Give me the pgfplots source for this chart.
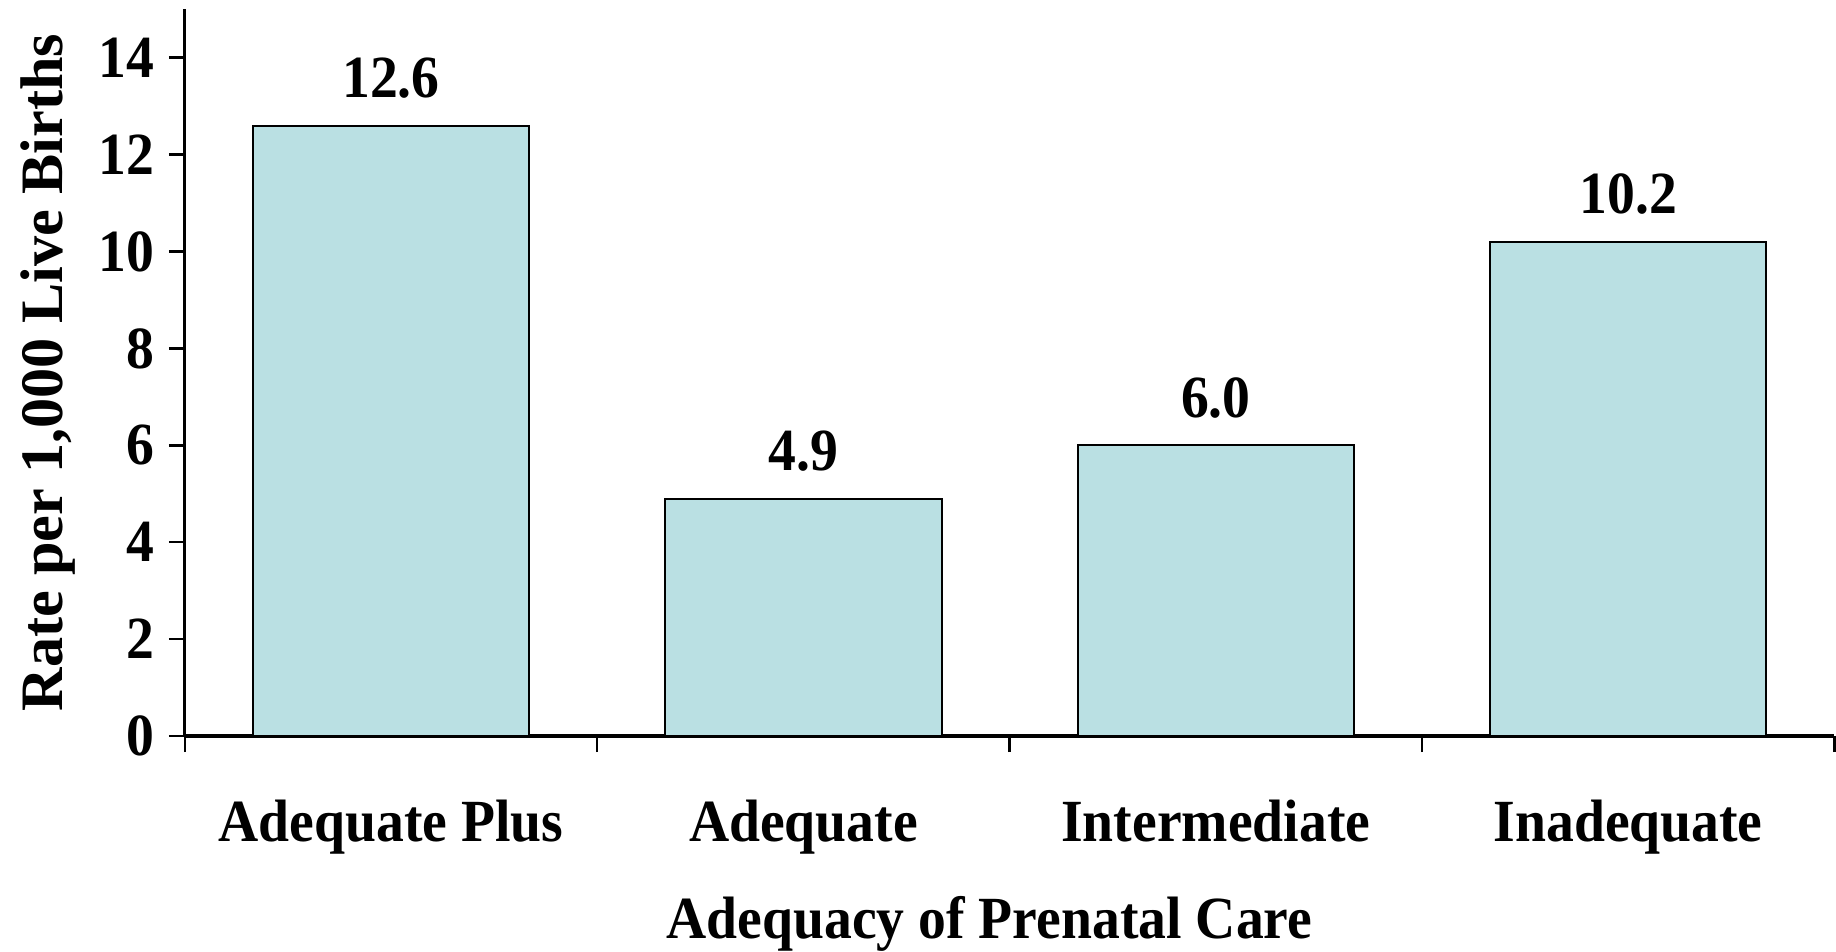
\documentclass[border=0pt]{standalone}
\usepackage{fontspec}
\setmainfont{Liberation Serif}[FakeStretch=0.93]
\newfontfamily\ylabfont{Liberation Serif}
\usepackage{pgfplots}
\pgfplotsset{compat=1.18}
\definecolor{barfill}{RGB}{186,224,227}

\pgfplotstableread{
x y
0 12.6
1 4.9
2 6.0
3 10.2
}\ratedata

\begin{document}
\begin{tikzpicture}
\begin{axis}[
    width=410.8pt, height=181pt, scale only axis,
    xmin=-0.5, xmax=3.5, ymin=0, ymax=15,
    axis x line*=bottom, axis y line*=left,
    axis line style={-, line width=0.8pt},
    tick align=outside, major tick length=4pt,
    tick style={black, line width=0.6pt},
    ytick={0,2,...,14},
    xtick={-0.5,0.5,1.5,2.5,3.5},
    xticklabels={Adequate Plus,Adequate,Intermediate,Inadequate,{}},
    x tick label style={xshift=51.35pt, yshift=-8.5pt, overlay},
    font=\fontsize{14.9}{18}\selectfont\bfseries,
    /pgf/number format/assume math mode=true,
    ylabel={Rate per 1,000 Live Births},
    y label style={at={(axis description cs:-0.083,0.5)}, rotate=0, anchor=center,
        font=\fontsize{15}{18}\selectfont\ylabfont\bfseries},
    xlabel={Adequacy of Prenatal Care},
    x label style={at={(axis description cs:0.5,0)}, anchor=base, inner sep=0pt,
        yshift=-50.5pt, xshift=-5pt},
    ybar, bar width=68.8pt,
    nodes near coords={\pgfmathprintnumber[fixed,zerofill,precision=1]{\pgfplotspointmeta}},
    every node near coord/.append style={anchor=south, inner sep=0pt, yshift=6.5pt},
]
\addplot[fill=barfill, draw=black, line width=0.5pt] table[x=x, y=y] {\ratedata};
\end{axis}
\path (current axis.north) ++(0,2.3pt);
\path (current axis.outer west) ++(-1.8pt,0);
\end{tikzpicture}
\end{document}
